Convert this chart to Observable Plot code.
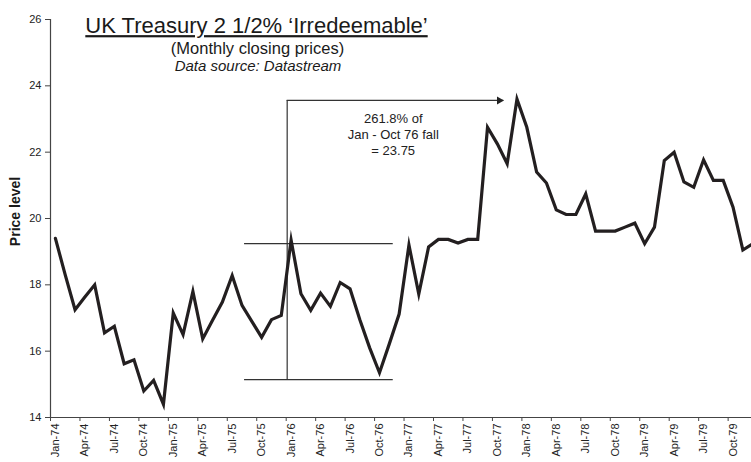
<!DOCTYPE html>
<html><head><meta charset="utf-8">
<script src="https://cdn.jsdelivr.net/npm/d3@7"></script>
<script src="https://cdn.jsdelivr.net/npm/@observablehq/plot@0.6"></script>
<style>body{margin:0;background:#fff} svg{display:block}</style>
</head><body><div id="chart"></div>
<script>
// Quarterly tick labels (every 3rd month, Jan-74 .. Oct-79)
const tickLabels = ["Jan-74","Apr-74","Jul-74","Oct-74","Jan-75","Apr-75","Jul-75","Oct-75",
  "Jan-76","Apr-76","Jul-76","Oct-76","Jan-77","Apr-77","Jul-77","Oct-77",
  "Jan-78","Apr-78","Jul-78","Oct-78","Jan-79","Apr-79","Jul-79","Oct-79"];
// Monthly closing prices, Jan-74 .. Dec-79
const prices1974 = [19.4, 18.3, 17.25, 17.63, 18.0, 16.55, 16.75, 15.62, 15.74, 14.8, 15.12, 14.4];
const prices1975 = [17.15, 16.5, 17.8, 16.37, 16.93, 17.48, 18.28, 17.38, 16.9, 16.42, 16.95, 17.08];
const prices1976 = [19.35, 17.73, 17.23, 17.75, 17.35, 18.07, 17.88, 16.95, 16.1, 15.35, 16.22, 17.12];
const prices1977 = [19.2, 17.72, 19.14, 19.37, 19.37, 19.26, 19.37, 19.37, 22.75, 22.25, 21.65, 23.6];
const prices1978 = [22.75, 21.4, 21.07, 20.26, 20.12, 20.12, 20.74, 19.62, 19.62, 19.62, 19.74, 19.86];
const prices1979 = [19.24, 19.74, 21.75, 22.0, 21.1, 20.94, 21.77, 21.15, 21.15, 20.34, 19.05, 19.24];
const prices = [...prices1974, ...prices1975, ...prices1976, ...prices1977, ...prices1978, ...prices1979];
const yTicks = [14, 16, 18, 20, 22, 24, 26];

const titleText = "UK Treasury 2 1/2% \u2018Irredeemable\u2019";
const subtitleText = "(Monthly closing prices)";
const sourceText = "Data source: Datastream";
const yLabel = "Price level";
const annotationText = "261.8% of\nJan - Oct 76 fall\n= 23.75";

// Fibonacci annotation, in data units (month index, price level)
const fibHigh = 19.24, fibLow = 15.14, fibTarget = 23.56;
const fibStart = 19.26, fibEnd = 34.4, fibVertical = 23.6, fibArrowEnd = 45.66;
const annotation = [{label: annotationText, i: 34.4, p: 22.55}];

const data = prices.map((p, i) => ({i, p}));
const tickPos = tickLabels.map((_, k) => 3 * k);
const font = "'Liberation Sans', Arial, sans-serif";

const plot = Plot.plot({
  width: 751, height: 462,
  marginLeft: 50, marginRight: 0, marginTop: 19, marginBottom: 45,
  style: {fontFamily: font, background: "#fff", overflow: "hidden"},
  x: {domain: [-0.5, 70.88]},
  y: {domain: [14, 26]},
  marks: [
    Plot.axisY({ticks: yTicks, tickSize: 5, tickPadding: 4, fontSize: 11, label: null, stroke: "#444", fill: "#222"}),
    Plot.axisX({ticks: tickPos.map(t => t - 0.5), tickSize: 4, tickFormat: () => "", label: null, stroke: "#444"}),
    Plot.axisX({ticks: tickPos, tickSize: 0, tickPadding: 6, tickRotate: -90, fontSize: 11,
      tickFormat: d => tickLabels[Math.round(d / 3)], label: null, fill: "#222"}),
    Plot.ruleX([-0.5], {stroke: "#444", strokeWidth: 1.2}),
    Plot.ruleY([14], {stroke: "#444", strokeWidth: 1.2}),
    // annotation
    Plot.ruleY([fibHigh, fibLow], {x1: fibStart, x2: fibEnd, stroke: "#333", strokeWidth: 1.2}),
    Plot.ruleX([fibVertical], {y1: fibLow, y2: fibTarget, stroke: "#333", strokeWidth: 1.2}),
    Plot.ruleY([fibTarget], {x1: fibVertical, x2: fibArrowEnd, stroke: "#333", strokeWidth: 1.2}),
    Plot.dot([{i: fibArrowEnd, p: fibTarget}], {x: "i", y: "p", symbol: "triangle", rotate: 90, r: 3, fill: "#222", stroke: null, dx: -4.5}),
    Plot.text(annotation, {x: "i", y: "p", text: "label", fontSize: 13, lineHeight: 1.23, fill: "#222"}),
    // series
    Plot.line(data, {x: "i", y: "p", stroke: "#231f20", strokeWidth: 3.2, strokeLinejoin: "miter", strokeMiterlimit: 10}),
    // titles
    Plot.text([titleText], {frameAnchor: "top-left", dx: 206, dy: -2, fontSize: 22, textAnchor: "middle", fill: "#1a1a1a"}),
    Plot.text([subtitleText], {frameAnchor: "top-left", dx: 207, dy: 22.5, fontSize: 16.5, textAnchor: "middle", fill: "#1a1a1a"}),
    Plot.text([sourceText], {frameAnchor: "top-left", dx: 207.5, dy: 40.5, fontSize: 15, fontStyle: "italic", textAnchor: "middle", fill: "#1a1a1a"}),
    Plot.text([yLabel], {frameAnchor: "left", dx: -35, dy: -7, rotate: -90, fontSize: 14, fontWeight: "bold", textAnchor: "middle", fill: "#1a1a1a"})
  ]
});
d3.select(plot).selectAll("text").filter(function () { return this.textContent === titleText; })
  .style("text-decoration", "underline");
document.getElementById("chart").appendChild(plot);
</script>
</body></html>
